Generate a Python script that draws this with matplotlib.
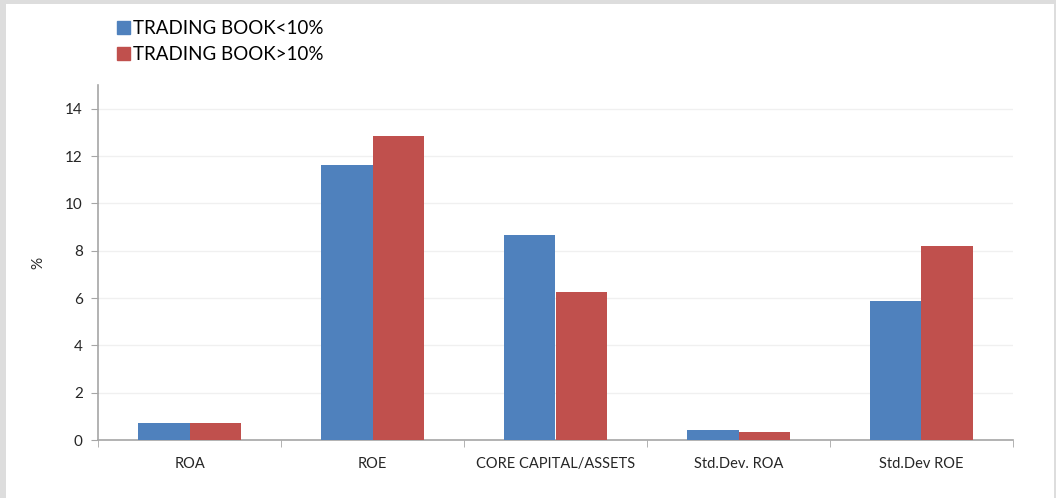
import numpy as np
import matplotlib
matplotlib.use("Agg")
import matplotlib.pyplot as plt
from matplotlib.patches import Rectangle, Patch

# ─── DATA ────────────────────────────────────────────────────────────────────
categories = ["ROA", "ROE", "CORE CAPITAL/ASSETS", "Std.Dev. ROA", "Std.Dev ROE"]
below_10   = [0.73, 11.6, 8.65, 0.41, 5.86]
above_10   = [0.73, 12.83, 6.24, 0.35, 8.18]
series_labels = ["TRADING BOOK<10%", "TRADING BOOK>10%"]
yticks = [0, 2, 4, 6, 8, 10, 12, 14]

# ─── STYLE ───────────────────────────────────────────────────────────────────
BLUE  = "#4f81bd"
RED   = "#c0504d"
FRAME = "#dddddd"
AXIS  = "#a6a6a6"
plt.rcParams["font.family"] = ["Lato", "DejaVu Sans"]

fig = plt.figure(figsize=(10.56, 4.98), dpi=100, facecolor=FRAME)
fig.patches.append(Rectangle((6 / 1056, 0), 1048 / 1056, 494 / 498,
                             transform=fig.transFigure, facecolor="white",
                             edgecolor="none", zorder=-10))

ax = fig.add_axes([98 / 1056, 58 / 498, 915 / 1056, 355 / 498])
ax.set_facecolor("none")

x = np.arange(len(categories))
w = 0.28
ax.bar(x - w / 2, below_10, w, color=BLUE, linewidth=0, zorder=3)
ax.bar(x + w / 2, above_10, w, color=RED, linewidth=0, zorder=3)

ax.set_xlim(-0.5, len(categories) - 0.5)
ax.set_ylim(0, 15)
ax.set_yticks(yticks)
ax.set_yticklabels([str(t) for t in yticks], fontsize=11, color="#262626")
ax.yaxis.grid(True, color="#f0f0f0", linewidth=1, zorder=0)

# category labels centred, tick marks between categories
ax.set_xticks(x)
ax.set_xticklabels(categories, fontsize=10.5, color="#262626")
ax.tick_params(axis="x", length=0, pad=12)
ax.set_xticks(np.arange(-0.5, len(categories)), minor=True)
ax.tick_params(axis="x", which="minor", length=5, color=AXIS)
ax.tick_params(axis="y", length=5, color=AXIS, pad=6)

for side in ["top", "right"]:
    ax.spines[side].set_visible(False)
for side in ["left", "bottom"]:
    ax.spines[side].set_color(AXIS)
    ax.spines[side].set_linewidth(1.2)

ax.set_ylabel("%", fontsize=11, color="#262626", labelpad=14)

handles = [Patch(color=BLUE), Patch(color=RED)]
fig.legend(handles, series_labels, loc="upper left",
           bbox_to_anchor=(109 / 1056, 1 - 13 / 498), frameon=False,
           fontsize=13.5, handlelength=0.7, handleheight=0.7,
           handletextpad=0.2, labelspacing=0.45, borderaxespad=0)

fig.savefig("out.png", dpi=100, facecolor=FRAME)
